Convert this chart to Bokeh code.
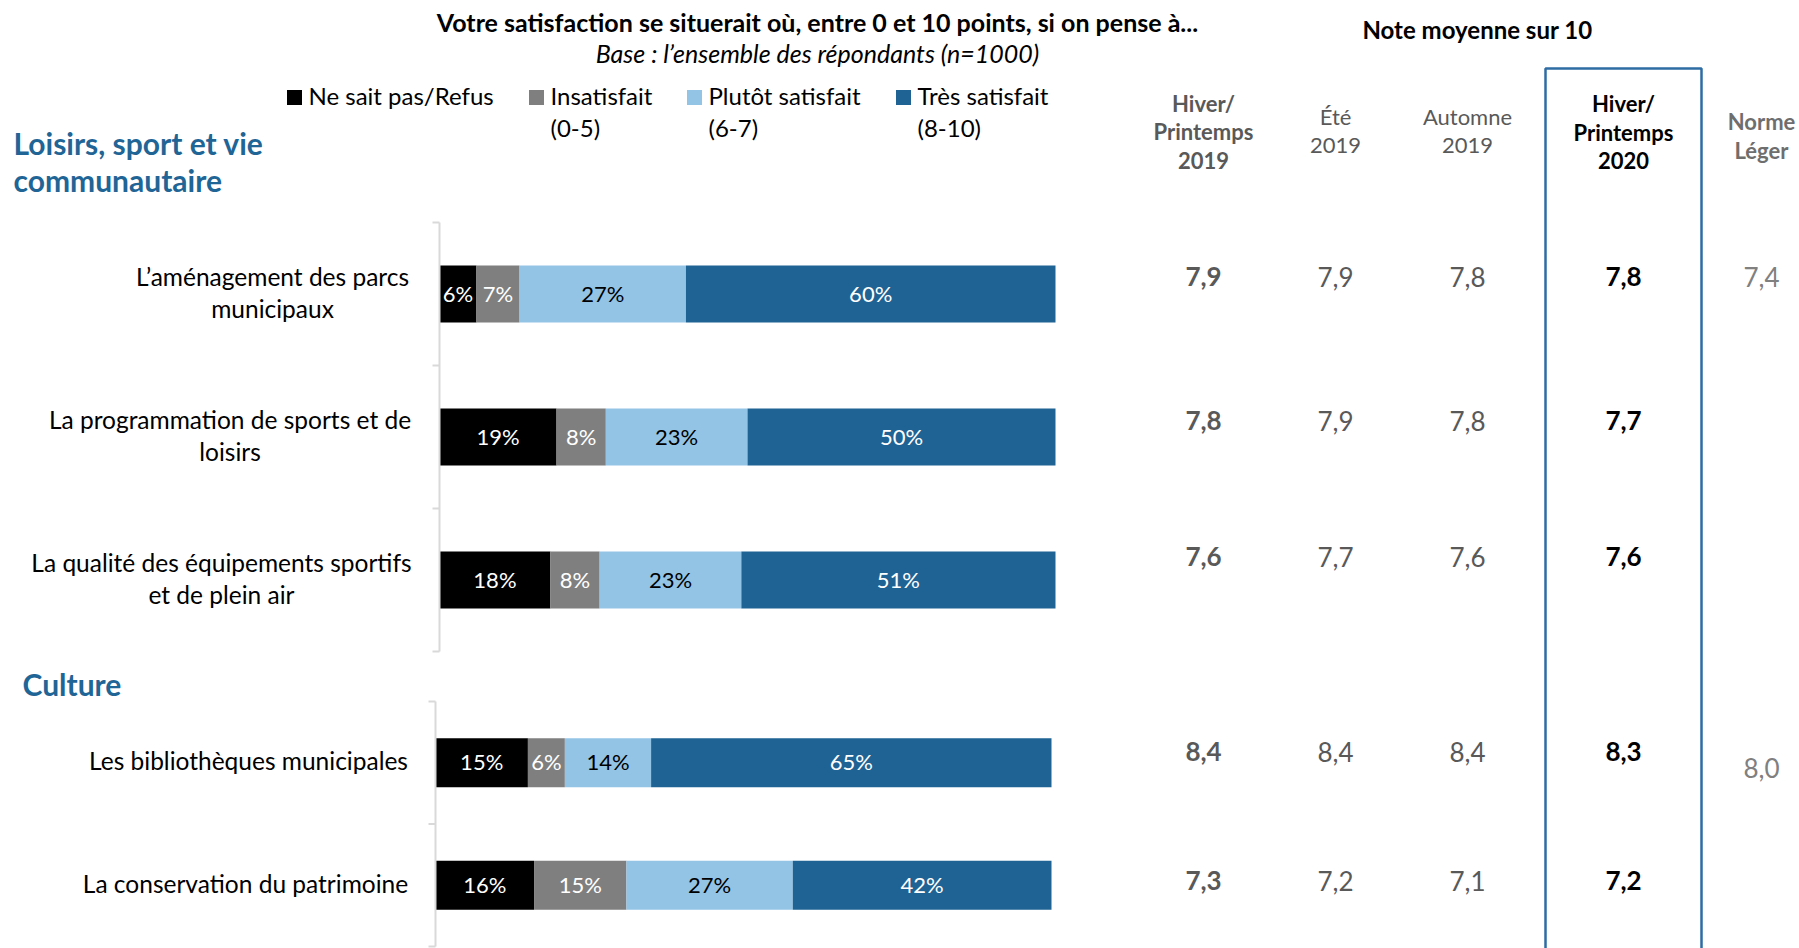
import numpy as np
from bokeh.plotting import figure
from bokeh.models import Range1d, ColumnDataSource
from bokeh.core.properties import value
from bokeh.embed import file_html
from bokeh.resources import INLINE

# ---------------- data ----------------
groups = ["Loisirs, sport et vie\ncommunautaire", "Culture"]
item_group = [0, 0, 0, 1, 1]
items = [
    "L’aménagement des parcs\nmunicipaux",
    "La programmation de sports et de\nloisirs",
    "La qualité des équipements sportifs\net de plein air",
    "Les bibliothèques municipales",
    "La conservation du patrimoine",
]
series = ["Ne sait pas/Refus", "Insatisfait\n(0-5)", "Plutôt satisfait\n(6-7)", "Très satisfait\n(8-10)"]
ne_sait_pas = [6, 19, 18, 15, 16]
insatisfait = [7, 8, 8, 6, 15]
plutot_satisfait = [27, 23, 23, 14, 27]
tres_satisfait = [60, 50, 51, 65, 42]

periods = ["Hiver/\nPrintemps\n2019", "Été\n2019", "Automne\n2019", "Hiver/\nPrintemps\n2020"]
hiver_printemps_2019 = [7.9, 7.8, 7.6, 8.4, 7.3]
ete_2019 = [7.9, 7.9, 7.7, 8.4, 7.2]
automne_2019 = [7.8, 7.8, 7.6, 8.4, 7.1]
hiver_printemps_2020 = [7.8, 7.7, 7.6, 8.3, 7.2]
norme_label = "Norme\nLéger"
norme_leger = [7.4, 8.0]   # one value per group

title = "Votre satisfaction se situerait où, entre 0 et 10 points, si on pense à..."
subtitle = "Base : l’ensemble des répondants (n=1000)"
note_title = "Note moyenne sur 10"

# ---------------- styles / layout ----------------
FONT = value("Lato")
W, H = 1799, 948
OFF = 0
TY = -2          # small vertical nudge for all texts
series_colors = ["#000000", "#7F7F7F", "#93C4E6", "#1F6394"]
label_colors = ["#FFFFFF", "#FFFFFF", "#000000", "#FFFFFF"]
BLUE_TXT = "#1F6596"

bar_px = [(439, 1055), (435, 1051)]        # pixel position of 0% and 100% per group
group_top = [222, 701]
group_band = [143, 122.5]
label_cx = [272, 229.5, 221, 248, 245]
table_y = [278, 422, 558, 753, 882]
norme_y = [278, 769]
col_x = [1203, 1335, 1467, 1623]
norme_x = 1761

p = figure(width=W, height=H, x_range=Range1d(OFF, OFF + W), y_range=Range1d(OFF + H, OFF),
           output_backend="svg", toolbar_location=None, x_axis_type=None, y_axis_type=None,
           min_border=0, outline_line_color=None)
p.grid.visible = False
p.background_fill_color = "white"


def pct_range(a, b):
    s = (b - a) / 100.0
    return Range1d((OFF - a) / s, (OFF + W - a) / s)


p.extra_x_ranges = {"g0": pct_range(*bar_px[0]), "g1": pct_range(*bar_px[1])}


def mtext(x, y, s, lh, size, align="center", color="#000000", style="normal", rng="default"):
    lines = s.split("\n")
    n = len(lines)
    xs = [x] * n
    ys = [y + TY + (j - (n - 1) / 2.0) * lh for j in range(n)]
    p.text(x=xs, y=ys, text=lines, text_font=FONT, text_font_size=f"{size}px",
           text_align=align, text_baseline="middle", text_color=color,
           text_font_style=style, x_range_name=rng)


def fmt(v):
    return f"{v:.1f}".replace(".", ",")


# ---------------- bars ----------------
vals = np.array([ne_sait_pas, insatisfait, plutot_satisfait, tres_satisfait], dtype=float)  # (4, n)
rights = np.cumsum(vals, axis=0)
lefts = rights - vals

row_y = []
counts = [0, 0]
for i, g in enumerate(item_group):
    row_y.append(group_top[g] + (counts[g] + 0.5) * group_band[g])
    counts[g] += 1

for g in range(2):
    idx = [i for i, gg in enumerate(item_group) if gg == g]
    for s in range(4):
        src = ColumnDataSource(dict(
            y=[row_y[i] for i in idx],
            ty=[row_y[i] + TY + 1 for i in idx],
            left=[lefts[s, i] for i in idx],
            right=[rights[s, i] for i in idx],
            h=[0.4 * group_band[g]] * len(idx),
            mid=[(lefts[s, i] + rights[s, i]) / 2 for i in idx],
            lab=[f"{int(vals[s, i])}%" for i in idx],
        ))
        p.hbar(y="y", left="left", right="right", height="h", source=src,
               fill_color=series_colors[s], line_color=None, x_range_name=f"g{g}")
        p.text(x="mid", y="ty", text="lab", source=src, text_font=FONT, text_font_size="22px",
               text_align="center", text_baseline="middle", text_color=label_colors[s],
               x_range_name=f"g{g}")
    # category axis line with ticks
    top = group_top[g]
    n = len(idx)
    bot = top + n * group_band[g]
    p.segment(x0=[0], y0=[top], x1=[0], y1=[bot], line_color="#D9D9D9", line_width=2,
              x_range_name=f"g{g}")
    ticks = [top + k * group_band[g] for k in range(n + 1)]
    s_px = (bar_px[g][1] - bar_px[g][0]) / 100.0
    p.segment(x0=[-7 / s_px] * len(ticks), y0=ticks, x1=[0] * len(ticks), y1=ticks,
              line_color="#D9D9D9", line_width=2, x_range_name=f"g{g}")

# category labels
for i, lab in enumerate(items):
    mtext(label_cx[i], row_y[i], lab, 32, 24.5)

# group headers
mtext(13, 162.5, groups[0], 37, 30, align="left", color=BLUE_TXT, style="bold")
mtext(22, 685, groups[1], 37, 30, align="left", color=BLUE_TXT, style="bold")

# ---------------- titles / legend ----------------
mtext(817, 23, title, 30, 25, style="bold")
mtext(817, 54, subtitle, 30, 25, style="italic")

leg_sq_x = [294, 536, 694, 903]
p.scatter(x=leg_sq_x, y=[97] * 4, marker="square", size=15, fill_color=series_colors,
          line_color=None)
for k, lab in enumerate(series):
    lines = lab.split("\n")
    for j, ln in enumerate(lines):
        mtext(leg_sq_x[k] + 14, 97 + j * 32, ln, 32, 24, align="left")

# ---------------- right-hand table ----------------
mtext(1477, 31, note_title, 30, 24, style="bold")
p.line(x=[1545, 1545, 1701, 1701], y=[960, 68, 68, 960], line_color="#2E6DA4", line_width=2.5)

hdr_style = [("bold", "#595959"), ("normal", "#595959"), ("normal", "#595959"), ("bold", "#000000")]
hdr_y = [133, 132.5, 132.5, 133.5]
for c, per in enumerate(periods):
    st, colr = hdr_style[c]
    lh = 28.5 if per.count("\n") == 2 else 29
    mtext(col_x[c], hdr_y[c], per, lh, 22, color=colr, style=st)
mtext(norme_x, 137.5, norme_label, 29, 22, color="#6E6E6E", style="bold")

cols = [hiver_printemps_2019, ete_2019, automne_2019, hiver_printemps_2020]
for c, colvals in enumerate(cols):
    st, colr = hdr_style[c]
    p.text(x=[col_x[c]] * len(colvals), y=[v + TY for v in table_y], text=[fmt(v) for v in colvals],
           text_font=FONT, text_font_size="26px", text_align="center", text_baseline="middle",
           text_color=colr, text_font_style=st)
p.text(x=[norme_x] * len(norme_leger), y=[v + TY for v in norme_y], text=[fmt(v) for v in norme_leger],
       text_font=FONT, text_font_size="26px", text_align="center", text_baseline="middle",
       text_color="#808080")

open("out.html", "w").write(file_html(p, INLINE))
